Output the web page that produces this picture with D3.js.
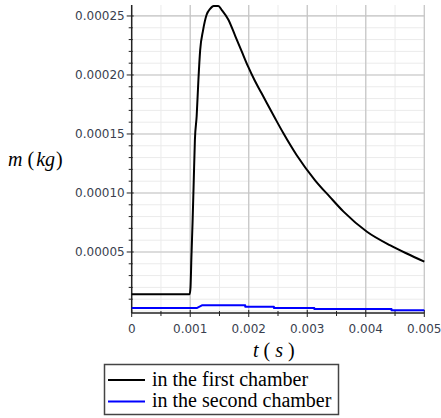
<!DOCTYPE html>
<html>
<head>
<meta charset="utf-8">
<script src="https://cdn.jsdelivr.net/npm/d3@7"></script>
<style>
  body { margin: 0; background: #fff; }
  svg { display: block; }
</style>
</head>
<body>
<script>
/* global d3 */

// mass in the first chamber
const firstT = [0, 0.00099, 0.001005, 0.00102, 0.00104, 0.00106, 0.00108, 0.00111,
  0.00114, 0.00117, 0.00122, 0.00128, 0.00134, 0.0014, 0.00148, 0.00154, 0.00165,
  0.00177, 0.00188, 0.00199, 0.0021, 0.00222, 0.00245, 0.00259, 0.00282, 0.00313,
  0.00339, 0.00362, 0.00402, 0.00442, 0.0047, 0.005];
const firstM = [1.42e-5, 1.42e-5, 2.0e-5, 4.5e-5, 7.5e-5, 1.1e-4, 1.45e-4, 1.65e-4,
  1.96e-4, 2.21e-4, 2.38e-4, 2.51e-4, 2.56e-4, 2.585e-4, 2.585e-4, 2.55e-4, 2.47e-4,
  2.33e-4, 2.2e-4, 2.07e-4, 1.955e-4, 1.845e-4, 1.633e-4, 1.508e-4, 1.32e-4, 1.11e-4,
  0.965e-4, 0.842e-4, 0.672e-4, 0.556e-4, 0.487e-4, 0.418e-4];

// mass in the second chamber (stair steps)
const secondT = [0, 0.00111, 0.0012, 0.00194, 0.00194, 0.00243, 0.00243, 0.00312,
  0.00312, 0.00444, 0.00444, 0.005];
const secondM = [2.5e-6, 2.5e-6, 4.8e-6, 4.8e-6, 3.6e-6, 3.6e-6, 2.5e-6, 2.5e-6,
  1.7e-6, 1.7e-6, 0.6e-6, 0.6e-6];

const xTicks = [0, 0.001, 0.002, 0.003, 0.004, 0.005];
const yTicks = [0.00005, 0.0001, 0.00015, 0.0002, 0.00025];
const seriesNames = ['in the first chamber', 'in the second chamber'];
const seriesColors = ['#000000', '#0000ff'];

const width = 441;
const height = 418;

const x = d3.scaleLinear().domain([0, 0.005]).range([131.7, 424.3]);
const y = d3.scaleLinear().domain([-1.7e-6, 2.593e-4]).range([313, 5]);

const svg = d3.select('body').append('svg')
  .attr('width', width)
  .attr('height', height);

const xMinor = d3.range(0, 0.00501, 0.0005);
const yMinor = d3.range(0, 0.000259, 0.00001);

// light grid first, then the major one on top
const grid = svg.append('g');
grid.selectAll('.vminor').data(xMinor).enter().append('line')
  .attr('x1', d => x(d)).attr('x2', d => x(d))
  .attr('y1', y.range()[1]).attr('y2', y.range()[0])
  .attr('stroke', '#ebebeb');
grid.selectAll('.hminor').data(yMinor).enter().append('line')
  .attr('x1', x(0)).attr('x2', x(0.005))
  .attr('y1', d => y(d)).attr('y2', d => y(d))
  .attr('stroke', '#ebebeb');
grid.selectAll('.vmajor').data(xTicks.slice(1)).enter().append('line')
  .attr('x1', d => x(d)).attr('x2', d => x(d))
  .attr('y1', y.range()[1]).attr('y2', y.range()[0])
  .attr('stroke', '#c4c4c4')
  .attr('stroke-width', 1.2);
grid.selectAll('.hmajor').data(yTicks).enter().append('line')
  .attr('x1', x(0)).attr('x2', x(0.005))
  .attr('y1', d => y(d)).attr('y2', d => y(d))
  .attr('stroke', '#c4c4c4')
  .attr('stroke-width', 1.2);

// axes: ticks cross the axis line a little
const tickColor = '#222';
const labelColor = '#3a3f4f';
const labelFont = '"DejaVu Sans", Verdana, sans-serif';

const yAxis = svg.append('g').attr('transform', `translate(${x(0)},0)`);
yAxis.append('line')
  .attr('y1', y.range()[1]).attr('y2', y.range()[0])
  .attr('stroke', tickColor).attr('stroke-width', 1.5);
yAxis.selectAll('.minor').data(yMinor.filter((d, i) => i % 5 !== 0)).enter().append('line')
  .attr('x1', -3).attr('x2', 1)
  .attr('y1', d => y(d)).attr('y2', d => y(d))
  .attr('stroke', tickColor);
yAxis.selectAll('.major').data(yTicks).enter().append('line')
  .attr('x1', -5).attr('x2', 2)
  .attr('y1', d => y(d)).attr('y2', d => y(d))
  .attr('stroke', tickColor);
yAxis.selectAll('text').data(yTicks).enter().append('text')
  .attr('x', -7)
  .attr('y', d => y(d))
  .attr('dy', '0.36em')
  .attr('text-anchor', 'end')
  .attr('font-family', labelFont)
  .attr('font-size', 12)
  .attr('fill', labelColor)
  .text(d3.format('.5f'));

const xAxis = svg.append('g').attr('transform', `translate(0,${y.range()[0]})`);
xAxis.append('line')
  .attr('x1', x(0)).attr('x2', x(0.005))
  .attr('stroke', tickColor).attr('stroke-width', 1.5);
xAxis.selectAll('.minor').data(xMinor.filter((d, i) => i % 2 === 1)).enter().append('line')
  .attr('x1', d => x(d)).attr('x2', d => x(d))
  .attr('y1', -2).attr('y2', 3)
  .attr('stroke', tickColor);
xAxis.selectAll('.major').data(xTicks).enter().append('line')
  .attr('x1', d => x(d)).attr('x2', d => x(d))
  .attr('y1', -3).attr('y2', 4)
  .attr('stroke', tickColor);
xAxis.selectAll('text').data(xTicks).enter().append('text')
  .attr('x', d => x(d))
  .attr('y', 20)
  .attr('text-anchor', 'middle')
  .attr('font-family', labelFont)
  .attr('font-size', 12)
  .attr('fill', labelColor)
  .text(d => (d === 0 ? '0' : d3.format('.3f')(d)));

// axis titles, Maple style: italic names, upright brackets
const titleFont = '"Liberation Serif", "Times New Roman", serif';
function title(parts, tx, ty) {
  const t = svg.append('text')
    .attr('x', tx).attr('y', ty)
    .attr('font-family', titleFont)
    .attr('font-size', 20)
    .attr('fill', '#000')
    .attr('xml:space', 'preserve');
  parts.forEach(([s, italic, dx]) => {
    t.append('tspan')
      .attr('font-style', italic ? 'italic' : 'normal')
      .attr('dx', dx || 0)
      .text(s);
  });
}
title([['m', true], [' (', false], ['kg', true, 2], [')', false, 1]], 8, 166);
title([['t', true], [' ( ', false], ['s', true], [' )', false]], 253, 357);

// curves: the first one is smooth, the second one is a staircase
const smooth = d3.line()
  .curve(d3.curveMonotoneX)
  .x(d => x(d[0]))
  .y(d => y(d[1]));
const straight = d3.line()
  .x(d => x(d[0]))
  .y(d => y(d[1]));

const series = [
  { pts: d3.zip(firstT, firstM), gen: smooth },
  { pts: d3.zip(secondT, secondM), gen: straight },
];
svg.append('g').selectAll('path').data(series).enter().append('path')
  .attr('d', d => d.gen(d.pts))
  .attr('fill', 'none')
  .attr('stroke', (d, i) => seriesColors[i])
  .attr('stroke-width', 2)
  .attr('stroke-linejoin', 'round');

// legend box under the plot
const legend = svg.append('g');
legend.append('rect')
  .attr('x', 104.5).attr('y', 364.5)
  .attr('width', 234).attr('height', 50)
  .attr('fill', '#fff')
  .attr('stroke', '#444')
  .attr('stroke-width', 1.5);
const rows = legend.selectAll('.row').data(seriesNames).enter().append('g')
  .attr('transform', (d, i) => `translate(0,${380 + i * 21.5})`);
rows.append('line')
  .attr('x1', 108).attr('x2', 145)
  .attr('stroke', (d, i) => seriesColors[i])
  .attr('stroke-width', 2);
rows.append('text')
  .attr('x', 152)
  .attr('y', 5.5)
  .attr('font-family', titleFont)
  .attr('font-size', 20)
  .attr('fill', '#000')
  .text(d => d);
</script>
</body>
</html>
